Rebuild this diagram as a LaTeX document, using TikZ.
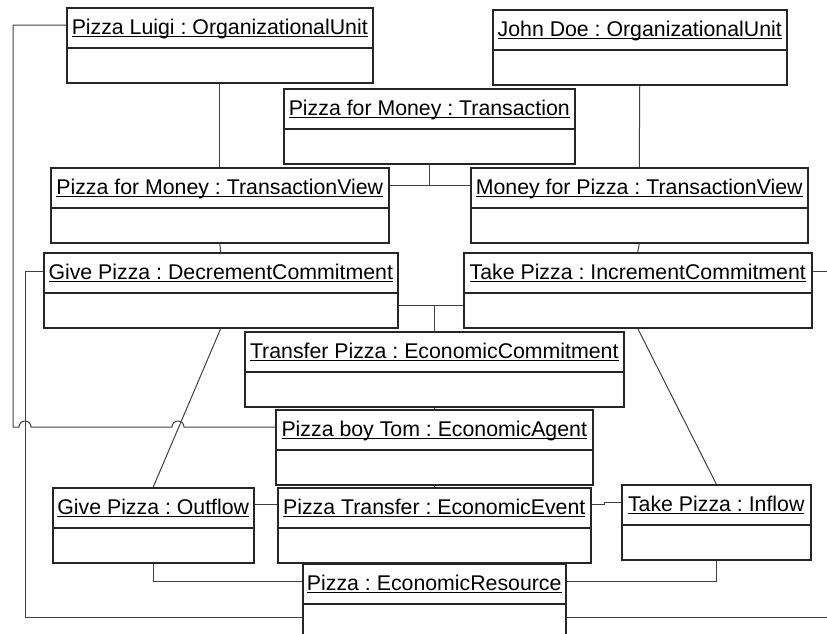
\documentclass[tikz,border=0pt]{standalone}
\usepackage{fontspec}
\setmainfont{Liberation Sans}
\usetikzlibrary{shapes.multipart}
\frenchspacing
\newsavebox \objtitlebox
\newcommand \objline [1] {\sbox\objtitlebox{#1}\rlap{\rule[-2.6pt]{\wd\objtitlebox}{1.1pt}}\usebox\objtitlebox}
\newcommand \objparts [1] {\rule[-12.5pt]{0pt}{38.5pt}\objline{#1}\nodepart{two}\rule{0pt}{33.5pt}}
\tikzset{
	umlobj/.style={
		rectangle split,
		rectangle split parts=2,
		draw=black!85,
		line width=1.5pt,
		inner xsep=3pt,
		inner ysep=0pt,
		anchor=north west,
		minimum width=#1,
		font=\fontsize{21.3}{25}\selectfont
	},
	umlobj/.default={100},
	umllink/.style={
		draw=black!75,
		line width=1pt
	},
	umldiag/.style={
		x=1pt,
		y=-1pt
	}
}

\begin{document}
\begin{tikzpicture} [umldiag]
	\useasboundingbox (0,0) rectangle (827,633);
	\clip (0,0) rectangle (827,633);

	\node [umlobj=306] (luigi)   at (66,7)    {\objparts{Pizza Luigi : OrganizationalUnit}};
	\node [umlobj=294] (john)    at (492,9)   {\objparts{John Doe : OrganizationalUnit}};
	\node [umlobj=291] (trans)   at (283,88)  {\objparts{Pizza for Money : Transaction}};
	\node [umlobj=338] (ptv)     at (50,167)  {\objparts{Pizza for Money : TransactionView}};
	\node [umlobj=337] (mtv)     at (470,167) {\objparts{Money for Pizza : TransactionView}};
	\node [umlobj=354] (decr)    at (43,252)  {\objparts{Give Pizza : DecrementCommitment}};
	\node [umlobj=348] (incr)    at (463,252) {\objparts{Take Pizza : IncrementCommitment}};
	\node [umlobj=379] (commit)  at (244,331) {\objparts{Transfer Pizza : EconomicCommitment}};
	\node [umlobj=317] (agent)   at (275,409) {\objparts{Pizza boy Tom : EconomicAgent}};
	\node [umlobj=201] (outflow) at (52,487)  {\objparts{Give Pizza : Outflow}};
	\node [umlobj=313] (event)   at (277,487) {\objparts{Pizza Transfer : EconomicEvent}};
	\node [umlobj=189] (inflow)  at (621,484) {\objparts{Take Pizza : Inflow}};
	\node [umlobj=263] (res)     at (302,563) {\objparts{Pizza : EconomicResource}};

	% views and transaction
	\draw [umllink] (luigi.south) -- (ptv.north);
	\draw [umllink] (john.south) -- (mtv.north);
	\coordinate (tvlink) at ([yshift=-18pt]ptv.north east);
	\draw [umllink] (tvlink) -- ([yshift=-18pt]mtv.north west);
	\draw [umllink] (trans.south) -- (trans.south |- tvlink);

	% commitments
	\draw [umllink] (ptv.south) -- (decr.north);
	\draw [umllink] (mtv.south) -- (incr.north);
	\coordinate (cmlink) at ([yshift=-53pt]decr.north east);
	\draw [umllink] (cmlink) -- ([yshift=-53pt]incr.north west);
	\draw [umllink] (commit.north) -- (commit.north |- cmlink);
	\draw [umllink] (commit.south) -- (agent.north);
	\draw [umllink] (agent.south) -- (event.north);

	% flows
	\draw [umllink] (decr.south) -- (outflow.north);
	\draw [umllink] (incr.south) -- (inflow.north);
	\draw [umllink] ([yshift=-17pt]outflow.north east) -- ([yshift=-17pt]event.north west);
	\draw [umllink] ([yshift=-17pt]event.north east) -- ++(13,0) |- ([yshift=-18pt]inflow.north west);
	\draw [umllink] (outflow.south) |- ([yshift=-18pt]res.north west);
	\draw [umllink] (inflow.south) |- ([yshift=-18pt]res.north east);

	% long links round the edge
	\coordinate (lbus) at (13,427);
	\coordinate (hopa) at (25,427);
	\coordinate (hopb) at (178,427);
	\draw [umllink] ([yshift=-18pt]luigi.north west) -| (lbus)
		-- ([xshift=-6pt]hopa) arc [start angle=180, end angle=0, radius=6pt]
		-- ([xshift=-6pt]hopb) arc [start angle=180, end angle=0, radius=6pt]
		-- ([yshift=-18pt]agent.north west);
	\draw [umllink] ([yshift=-19pt]decr.north west) -- ++(-18,0) |- ([yshift=-54pt]res.north west);
	\draw [umllink] ([yshift=-19pt]incr.north east) -- ++(30,0) |- ([yshift=-54pt]res.north east);
\end{tikzpicture}
\end{document}
